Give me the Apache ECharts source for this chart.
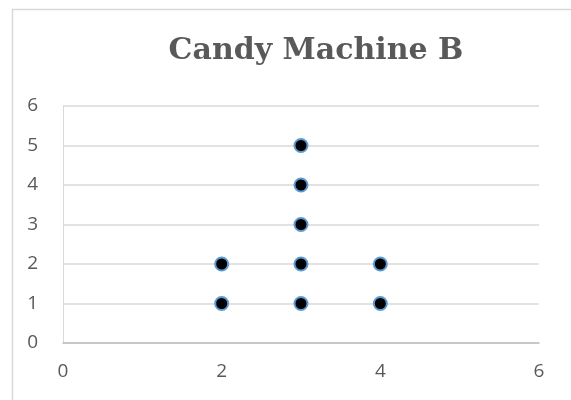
<!DOCTYPE html>
<html>
<head>
<meta charset="utf-8">
<script src="https://cdn.jsdelivr.net/npm/echarts@6/dist/echarts.min.js"></script>
<style>
  html, body { margin: 0; padding: 0; background: #fff; }
  #chart { width: 571px; height: 400px; }
</style>
</head>
<body>
<div id="chart"></div>
<script>
// Candy Machine B dot plot: x = value, y = stack count
const titleText = 'Candy Machine B';
const xValues = [2, 2, 3, 3, 3, 3, 3, 4, 4];
const yValues = [1, 2, 1, 2, 3, 4, 5, 1, 2];
const xTicks = [0, 2, 4, 6];
const yTicks = [0, 1, 2, 3, 4, 5, 6];

const points = xValues.map((x, i) => [x, yValues[i]]);

const chart = echarts.init(document.getElementById('chart'), null, { renderer: 'canvas' });
chart.setOption({
  animation: false,
  backgroundColor: '#fff',
  title: {
    text: titleText,
    left: 311,
    top: 31,
    textAlign: 'center',
    textStyle: {
      fontFamily: 'DejaVu Serif',
      fontWeight: 'bold',
      fontSize: 30,
      color: '#595959'
    }
  },
  graphic: [{
    type: 'rect',
    shape: { x: 12.5, y: 9.5, width: 700, height: 500 },
    style: { fill: 'none', stroke: '#d9d9d9', lineWidth: 1.5 },
    silent: true
  }],
  grid: { left: 63, right: 32, top: 106, bottom: 57, containLabel: false },
  xAxis: {
    type: 'value',
    min: xTicks[0],
    max: xTicks[xTicks.length - 1],
    interval: 2,
    axisLine: { show: true, lineStyle: { color: '#bfbfbf', width: 1.5 } },
    axisTick: { show: false },
    splitLine: { show: false },
    axisLabel: {
      color: '#595959',
      fontSize: 19,
      fontFamily: 'Open Sans',
      margin: 19
    }
  },
  yAxis: {
    type: 'value',
    min: yTicks[0],
    max: yTicks[yTicks.length - 1],
    interval: 1,
    axisLine: { show: true, lineStyle: { color: '#d9d9d9', width: 1 } },
    axisTick: { show: false },
    splitLine: { show: true, lineStyle: { color: '#d9d9d9', width: 1.5 } },
    axisLabel: {
      color: '#595959',
      fontSize: 19,
      fontFamily: 'Open Sans',
      margin: 25
    }
  },
  series: [{
    type: 'scatter',
    data: points,
    symbol: 'circle',
    symbolSize: 13,
    itemStyle: { color: '#000', borderColor: '#5b9bd5', borderWidth: 2, opacity: 1 }
  }]
});
</script>
</body>
</html>
